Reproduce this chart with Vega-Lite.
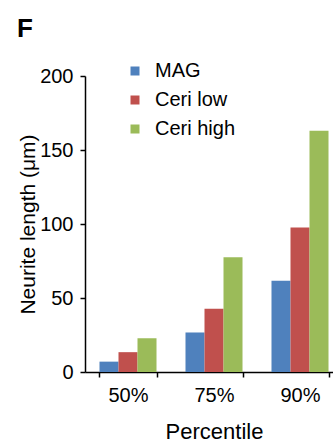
{
  "$schema": "https://vega.github.io/schema/vega-lite/v6.json",
  "autosize": {"type": "none"},
  "width": 258,
  "height": 296,
  "padding": {"left": 85, "top": 76, "right": 0, "bottom": 73},
  "background": "white",
  "config": {
    "font": "Liberation Sans",
    "view": {"stroke": null},
    "axis": {"grid": false, "domainColor": "black", "tickColor": "black", "domainWidth": 1.5, "tickWidth": 1.5, "labelColor": "black", "titleColor": "black", "labelFont": "Liberation Sans", "titleFont": "Liberation Sans", "titleFontWeight": "normal"}
  },
  "title": {"text": "F", "anchor": "start", "frame": "group", "dx": -68, "offset": 19, "fontSize": 26, "fontWeight": "bold", "color": "black", "font": "Liberation Sans"},
  "data": {
    "values": [
      {"percentile": "50%", "group": "MAG", "length": 7},
      {"percentile": "50%", "group": "Ceri low", "length": 13.4},
      {"percentile": "50%", "group": "Ceri high", "length": 22.8},
      {"percentile": "75%", "group": "MAG", "length": 26.7},
      {"percentile": "75%", "group": "Ceri low", "length": 42.7},
      {"percentile": "75%", "group": "Ceri high", "length": 77.6},
      {"percentile": "90%", "group": "MAG", "length": 61.6},
      {"percentile": "90%", "group": "Ceri low", "length": 97.6},
      {"percentile": "90%", "group": "Ceri high", "length": 163}
    ]
  },
  "mark": {"type": "bar"},
  "encoding": {
    "x": {
      "field": "percentile", "type": "nominal", "sort": null,
      "scale": {"paddingInner": 0.337, "paddingOuter": 0.1685},
      "axis": {"title": "Percentile", "labelAngle": 0, "labelFontSize": 20, "titleFontSize": 22, "tickBand": "extent", "tickSize": 5, "labelPadding": 8, "titlePadding": 16}
    },
    "xOffset": {"field": "group", "type": "nominal", "sort": ["MAG", "Ceri low", "Ceri high"], "scale": {"paddingInner": 0, "paddingOuter": 0}},
    "y": {
      "field": "length", "type": "quantitative",
      "scale": {"domain": [0, 200], "nice": false},
      "axis": {"title": "Neurite length (μm)", "values": [0, 50, 100, 150, 200], "labelFontSize": 20, "titleFontSize": 21, "tickSize": 5, "labelPadding": 7, "titlePadding": 1}
    },
    "color": {
      "field": "group", "type": "nominal",
      "sort": ["MAG", "Ceri low", "Ceri high"],
      "scale": {"domain": ["MAG", "Ceri low", "Ceri high"], "range": ["#4F81BD", "#C0504D", "#9BBB59"]},
      "legend": {"title": null, "orient": "none", "legendX": 40, "legendY": -15, "symbolType": "square", "symbolSize": 81, "labelFontSize": 20, "labelColor": "black", "rowPadding": 9, "labelOffset": 10, "symbolStrokeWidth": 0}
    }
  }
}
